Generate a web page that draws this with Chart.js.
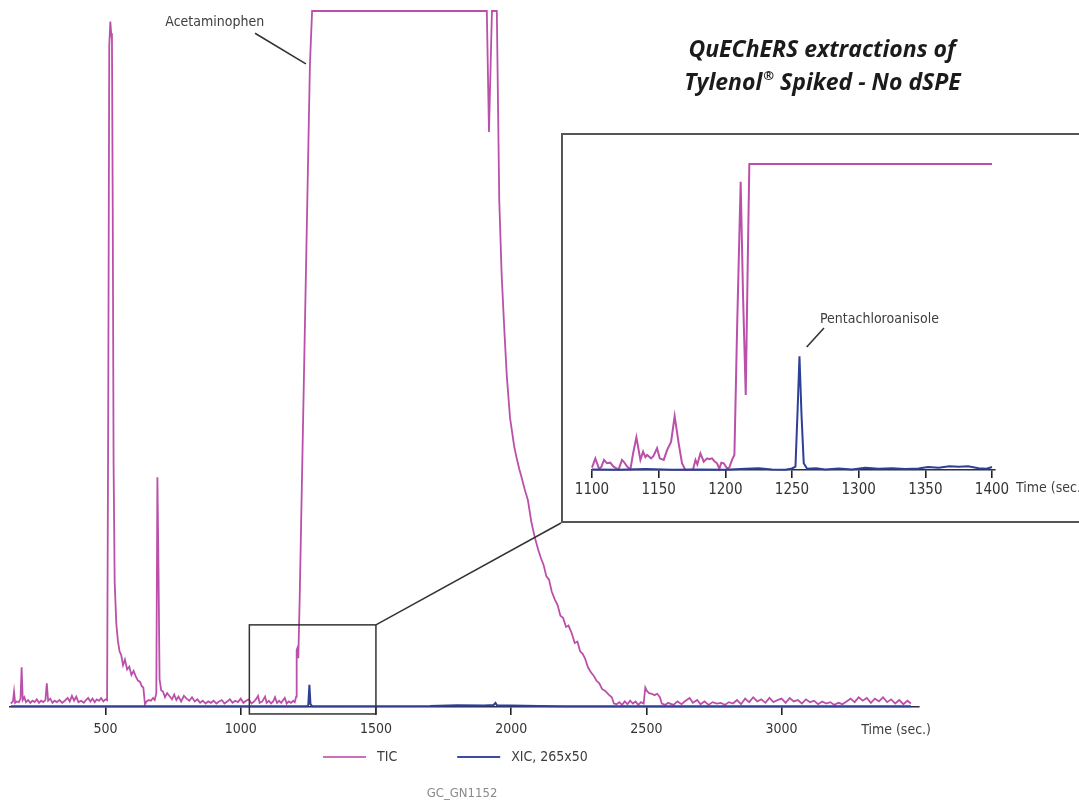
<!DOCTYPE html>
<html>
<head>
<meta charset="utf-8">
<title>QuEChERS extractions of Tylenol Spiked - No dSPE</title>
<script src="https://cdn.jsdelivr.net/npm/chart.js@4.4.1/dist/chart.umd.min.js"></script>
<style>
	html, body { margin: 0; padding: 0; background: #fff; overflow: hidden; }
	#wrap { position: relative; width: 1079px; height: 804px; }
	#main-chart { position: absolute; left: 0; top: 0; }
	#inset { position: absolute; left: 561px; top: 133px; width: 518px; height: 390px; box-sizing: border-box; border: 2px solid #555; border-right: none; }
	#inset-chart { position: absolute; left: 0; top: 0; }
</style>
</head>
<body>
<div id="wrap">
	<canvas id="main-chart" width="1079" height="804"></canvas>
	<div id="inset"><canvas id="inset-chart" width="516" height="386"></canvas></div>
</div>
<script>

//
// Data
//

var seriesLabels = ['TIC', 'XIC, 265x50'];
var titleLines = ['QuEChERS extractions of', 'Tylenol', '\u00AE', ' Spiked - No dSPE'];
var footerText = 'GC_GN1152';
var axisTitle = 'Time (sec.)';

// full run, time in seconds, abundance in % of detector range
var ticTime = [150, 158, 162, 166, 172, 180, 186, 190, 194, 200, 206, 214, 222, 230, 238, 246, 254, 262, 270, 278,
	283, 288, 296, 304, 312, 320, 330, 340, 350, 360, 368, 376, 384, 392, 400, 410, 420, 428, 436, 444,
	452, 460, 468, 476, 484, 492, 500, 506, 510, 514, 518, 521, 524, 527, 530, 534, 540, 546, 552, 558,
	565, 572, 580, 588, 596, 604, 612, 620, 628, 634, 640, 646, 652, 660, 668, 676, 682, 688, 692, 696,
	700, 706, 713, 720, 728, 738, 746, 754, 762, 770, 780, 790, 800, 810, 820, 830, 840, 850, 860, 870,
	880, 890, 900, 910, 920, 930, 940, 950, 960, 970, 980, 990, 1000, 1010, 1020, 1030, 1040, 1050, 1058, 1064,
	1070, 1080, 1090, 1096, 1104, 1112, 1120, 1127, 1134, 1142, 1150, 1157, 1163, 1170, 1178, 1186, 1194, 1200, 1205, 1207,
	1210, 1213, 1218, 1256, 1264, 1910, 1918, 1929, 1947, 1956, 1965, 1975, 1984, 1996, 2011, 2020, 2030, 2040, 2050,
	2062, 2075, 2088, 2100, 2110, 2120, 2130, 2140, 2150, 2162, 2172, 2182, 2192, 2203, 2212, 2224, 2235, 2245, 2255, 2265,
	2273, 2284, 2295, 2305, 2315, 2326, 2336, 2348, 2360, 2372, 2380, 2390, 2400, 2410, 2420, 2430, 2440, 2450, 2460, 2470,
	2480, 2490, 2496, 2502, 2510, 2520, 2530, 2540, 2550, 2557, 2570, 2580, 2600, 2615, 2630, 2645, 2660, 2672, 2688, 2700,
	2715, 2730, 2745, 2760, 2775, 2790, 2805, 2820, 2835, 2850, 2865, 2880, 2895, 2910, 2925, 2940, 2955, 2970, 2985, 3000,
	3015, 3030, 3045, 3060, 3075, 3090, 3105, 3120, 3135, 3150, 3165, 3180, 3195, 3210, 3225, 3240, 3255, 3270, 3285, 3300,
	3315, 3330, 3345, 3360, 3375, 3390, 3405, 3420, 3435, 3450, 3465, 3478];
var ticValue = [0.5, 0.8, 2.2, 0.6, 0.8, 0.7, 1.2, 5.7, 1.0, 1.4, 0.7, 1.0, 0.6, 0.9, 0.7, 1.1, 0.6, 0.9, 0.7, 1.0,
	3.4, 0.9, 1.2, 0.6, 0.9, 0.7, 1.0, 0.6, 0.9, 1.3, 0.8, 1.6, 0.9, 1.5, 0.7, 0.9, 0.6, 1.0, 1.3, 0.8,
	1.2, 0.7, 1.1, 0.9, 1.3, 0.8, 1.1, 1.0, 40, 95, 98.5, 96.8, 96, 70, 35, 18, 12, 9.5, 8, 7.5,
	6, 6.8, 5.4, 5.8, 4.6, 5.2, 4.4, 3.8, 3.6, 3.0, 2.8, 0.4, 0.8, 1.0, 0.9, 1.3, 1.0, 2.0, 33, 20,
	4, 2.4, 2.2, 1.4, 2.0, 1.5, 1.1, 1.8, 1.0, 1.5, 0.8, 1.6, 1.2, 0.9, 1.4, 0.8, 1.1, 0.6, 0.9, 0.5,
	0.8, 0.6, 0.9, 0.5, 0.8, 1.0, 0.5, 0.8, 1.1, 0.6, 0.9, 0.7, 1.2, 0.6, 0.9, 1.1, 0.5, 0.8, 1.2, 1.6,
	0.6, 0.8, 1.5, 0.6, 0.9, 0.5, 0.8, 1.4, 0.6, 0.9, 0.6, 1.0, 1.3, 0.5, 0.8, 0.6, 0.9, 0.7, 1.5, 8.2,
	8.5, 7.0, 15.4, 92.4, 100, 100, 82.6, 100, 100, 72.8, 62, 54, 47.5, 41.5, 37.5, 35.8, 34.2, 32.8, 31.3,
	29.7, 26.5, 24.3, 22.6, 21.4, 20.4, 18.8, 18.3, 16.6, 15.4, 14.6, 13.1, 12.8, 11.5, 11.7, 10.6, 9.2, 9.4, 8.0, 7.6,
	7.0, 5.7, 5.0, 4.5, 3.8, 3.4, 2.6, 2.3, 1.8, 1.4, 0.5, 0.4, 0.7, 0.3, 0.8, 0.4, 0.9, 0.5, 0.8, 0.3,
	0.7, 0.5, 2.8, 2.3, 2.0, 1.9, 1.7, 1.9, 1.4, 0.5, 0.3, 0.6, 0.3, 0.8, 0.4, 0.9, 1.3, 0.6, 1.0, 0.4,
	0.8, 0.3, 0.7, 0.5, 0.6, 0.3, 0.7, 0.5, 1.0, 0.4, 1.2, 0.7, 1.4, 0.8, 1.1, 0.6, 1.3, 0.7, 1.0, 1.2,
	0.6, 1.3, 0.8, 1.0, 0.5, 1.1, 0.7, 0.9, 0.4, 0.8, 0.5, 0.7, 0.3, 0.6, 0.4, 0.8, 1.2, 0.7, 1.4, 0.9,
	1.3, 0.6, 1.2, 0.8, 1.4, 0.7, 1.1, 0.5, 1.0, 0.4, 0.9, 0.5];

var xicTime = [150, 500, 1000, 1245, 1250, 1254, 1258, 1265, 1700, 1800, 1900, 1935, 1942, 1948, 2000, 2100, 2200, 3478];
var xicValue = [0.1, 0.1, 0.1, 0.1, 0.3, 3.2, 0.4, 0.1, 0.15, 0.25, 0.2, 0.3, 0.6, 0.2, 0.2, 0.15, 0.1, 0.1];

// expanded 1100-1400 s window, abundance in % of the expanded range
var insetTicTime = [1100, 1102.5, 1105.3, 1107, 1109, 1111.2, 1113.7, 1116.2, 1118, 1120, 1122.5, 1124, 1126.3, 1128.8,
	1130.8, 1133.3, 1136.3, 1138.3, 1140, 1141.3, 1144.3, 1146, 1148.8, 1150.8, 1153.8, 1156.3, 1159.3, 1162, 1165,
	1167.5, 1170, 1173, 1175.8, 1177.6, 1179, 1181.3, 1183.8, 1186.3, 1188, 1190, 1192, 1193.8, 1195.5, 1197, 1198.8,
	1201.3, 1203, 1205, 1206.8, 1208.8, 1211.5, 1213.3, 1215.3, 1216.8, 1218, 1400];
var insetTicValue = [0.8, 3.8, 0.4, 1.0, 3.3, 2.2, 2.4, 1.1, 0.6, 0.2, 3.3, 2.6, 1.1, 0.2,
	5.4, 10.7, 3.3, 6.0, 4.2, 4.9, 3.8, 4.5, 7.1, 3.8, 3.3, 6.5, 9.2, 17.6, 8.7,
	2.2, 0, 0.1, 0.2, 3.3, 1.8, 5.4, 2.7, 3.8, 3.5, 3.8, 2.8, 2.2, 0.4, 2.4, 2.2,
	0.5, 0.8, 3.3, 4.9, 45.8, 94.2, 56.6, 24.5, 67.6, 100, 100];

var insetXicTime = [1100, 1120, 1140, 1160, 1180, 1200, 1215, 1225, 1235, 1245, 1250, 1252.6, 1254.1, 1255.6, 1257.1,
	1258.8, 1261.3, 1268, 1275, 1285, 1295, 1305, 1315, 1325, 1335, 1345, 1352, 1360, 1368, 1375, 1382, 1390, 1396, 1400];
var insetXicValue = [0.2, 0.1, 0.3, 0.1, 0.2, 0.1, 0.4, 0.6, 0.2, 0.1, 0.5, 1.1, 18.4, 37.2, 18.4,
	2.2, 0.4, 0.6, 0.2, 0.5, 0.2, 0.7, 0.4, 0.6, 0.3, 0.5, 1.0, 0.7, 1.2, 1.1, 1.2, 0.6, 0.4, 1.0];

var mainTicks = [500, 1000, 1500, 2000, 2500, 3000];
var insetTicks = [1100, 1150, 1200, 1250, 1300, 1350, 1400];


var Chromatogram = (function() {

	//
	// Variables
	//

	var narrow = "'Liberation Sans Narrow', 'DejaVu Sans Condensed', 'Roboto Condensed', sans-serif";
	var ticColor = '#bb50aa';
	var xicColor = '#2e3f96';
	var legendColors = ['#cc70bb', '#3b4ca2'];
	var inkColor = '#333';

	function points(xs, ys) {
		return xs.map(function(x, i) {
			return { x: x, y: ys[i] };
		});
	}

	function leader(ctx, x1, y1, x2, y2) {
		ctx.save();
		ctx.strokeStyle = '#333';
		ctx.lineWidth = 1.6;
		ctx.beginPath();
		ctx.moveTo(x1, y1);
		ctx.lineTo(x2, y2);
		ctx.stroke();
		ctx.restore();
	}

	function label(ctx, text, x, y, align, size) {
		ctx.save();
		ctx.font = (size || 14) + 'px ' + narrow;
		ctx.fillStyle = '#3d3d3d';
		ctx.textAlign = align || 'left';
		ctx.textBaseline = 'middle';
		ctx.fillText(text, x, y);
		ctx.restore();
	}


	//
	// Methods
	//

	// title, annotations, zoom box and legend on the main chart
	var mainDecor = {
		id: 'mainDecor',
		afterDraw: function(chart) {
			var ctx = chart.ctx;
			var xs = chart.scales.x;
			var ys = chart.scales.y;
			var area = chart.chartArea;

			// title
			var cx = 822;
			var big = 'italic bold 23px "Open Sans", sans-serif';
			var small = 'italic bold 13px "Open Sans", sans-serif';
			ctx.save();
			ctx.fillStyle = '#1b1b1b';
			ctx.textBaseline = 'middle';
			ctx.textAlign = 'center';
			ctx.font = big;
			ctx.fillText(titleLines[0], cx, 50);
			var wa = ctx.measureText(titleLines[1]).width;
			var wc = ctx.measureText(titleLines[3]).width;
			ctx.font = small;
			var wb = ctx.measureText(titleLines[2]).width;
			var x0 = cx - (wa + wb + wc) / 2;
			ctx.textAlign = 'left';
			ctx.font = big;
			ctx.fillText(titleLines[1], x0, 83);
			ctx.font = small;
			ctx.fillText(titleLines[2], x0 + wa + 1, 76);
			ctx.font = big;
			ctx.fillText(titleLines[3], x0 + wa + wb + 1, 83);
			ctx.restore();

			// acetaminophen
			label(ctx, 'Acetaminophen', xs.getPixelForValue(904), ys.getPixelForValue(98.4), 'center');
			leader(ctx, xs.getPixelForValue(1053), ys.getPixelForValue(96.8), xs.getPixelForValue(1241), ys.getPixelForValue(92.4));

			// zoom box and connector to the inset
			var bx1 = xs.getPixelForValue(1032);
			var bx2 = xs.getPixelForValue(1500);
			var by1 = ys.getPixelForValue(11.8);
			var by2 = ys.getPixelForValue(-1);
			var inset = document.getElementById('inset');
			ctx.save();
			ctx.strokeStyle = '#333';
			ctx.lineWidth = 1.5;
			ctx.strokeRect(bx1, by1, bx2 - bx1, by2 - by1);
			ctx.beginPath();
			ctx.moveTo(bx2, by1);
			ctx.lineTo(inset.offsetLeft, inset.offsetTop + inset.offsetHeight);
			ctx.stroke();
			ctx.restore();

			// axis title
			label(ctx, axisTitle, area.right + 12, 730, 'right');

			// legend
			var lx = 323;
			var ly = 757;
			chart.data.datasets.slice().sort(function(a, b) { return a.legendIndex - b.legendIndex; }).forEach(function(ds, i) {
				ctx.save();
				ctx.strokeStyle = legendColors[i];
				ctx.lineWidth = 2.2;
				ctx.beginPath();
				ctx.moveTo(lx, ly);
				ctx.lineTo(lx + 43, ly);
				ctx.stroke();
				ctx.font = '14px ' + narrow;
				var w = ctx.measureText(ds.label).width;
				ctx.restore();
				label(ctx, ds.label, lx + 54, ly);
				lx += 54 + w + 60;
			});

			// footer
			ctx.save();
			ctx.font = '13px ' + narrow;
			ctx.fillStyle = '#8a8a8a';
			ctx.textAlign = 'center';
			ctx.textBaseline = 'middle';
			ctx.fillText(footerText, 462, 794);
			ctx.restore();
		}
	};

	var insetDecor = {
		id: 'insetDecor',
		afterDraw: function(chart) {
			var ctx = chart.ctx;
			var xs = chart.scales.x;
			var ys = chart.scales.y;
			label(ctx, 'Pentachloroanisole', xs.getPixelForValue(1271), ys.getPixelForValue(49.3), 'left', 14);
			leader(ctx, xs.getPixelForValue(1274), ys.getPixelForValue(46.4), xs.getPixelForValue(1261), ys.getPixelForValue(40.2));
			label(ctx, axisTitle, chart.chartArea.right + 21, 353, 'left', 14);
		}
	};

	function xAxis(min, max, ticks, size, pad) {
		return {
			type: 'linear',
			min: min,
			max: max,
			afterBuildTicks: function(scale) {
				scale.ticks = ticks.map(function(v) { return { value: v }; });
			},
			afterFit: function(scale) {
				scale.height = 30;
			},
			border: { display: true, color: '#2a2d48', width: 1.6 },
			grid: { display: true, drawOnChartArea: false, drawTicks: true, tickLength: 8, color: '#222', lineWidth: 1.6 },
			ticks: {
				padding: pad,
				color: inkColor,
				autoSkip: false,
				maxRotation: 0,
				font: { family: narrow, size: size },
				callback: function(v) { return String(v); }
			}
		};
	}

	function datasets(tic, xic, width) {
		return [{
			label: seriesLabels[0],
			legendIndex: 0,
			data: tic,
			borderColor: ticColor,
			backgroundColor: ticColor,
			borderWidth: width,
			pointRadius: 0,
			tension: 0,
			clip: 3,
			order: 1
		}, {
			label: seriesLabels[1],
			legendIndex: 1,
			data: xic,
			borderColor: xicColor,
			backgroundColor: xicColor,
			borderWidth: 2,
			pointRadius: 0,
			tension: 0,
			clip: 3,
			order: 0
		}];
	}

	// Init charts
	function init() {
		Chart.defaults.font.family = narrow;

		new Chart(document.getElementById('main-chart'), {
			type: 'line',
			data: { datasets: datasets(points(ticTime, ticValue), points(xicTime, xicValue), 1.8) },
			options: {
				responsive: false,
				animation: false,
				layout: { padding: { left: 10, right: 160, top: 11, bottom: 67 } },
				plugins: { legend: { display: false }, tooltip: { enabled: false } },
				scales: {
					x: xAxis(147, 3508, mainTicks, 14, 6),
					y: { display: false, min: 0, max: 100 }
				}
			},
			plugins: [mainDecor]
		});

		new Chart(document.getElementById('inset-chart'), {
			type: 'line',
			data: { datasets: datasets(points(insetTicTime, insetTicValue), points(insetXicTime, insetXicValue), 2) },
			options: {
				responsive: false,
				animation: false,
				layout: { padding: { left: 29, right: 84, top: 29, bottom: 21 } },
				plugins: { legend: { display: false }, tooltip: { enabled: false } },
				scales: {
					x: xAxis(1100, 1402.25, insetTicks, 15, 3),
					y: { display: false, min: 0, max: 100 }
				}
			},
			plugins: [insetDecor]
		});
	}

	init();

})();
</script>
</body>
</html>
